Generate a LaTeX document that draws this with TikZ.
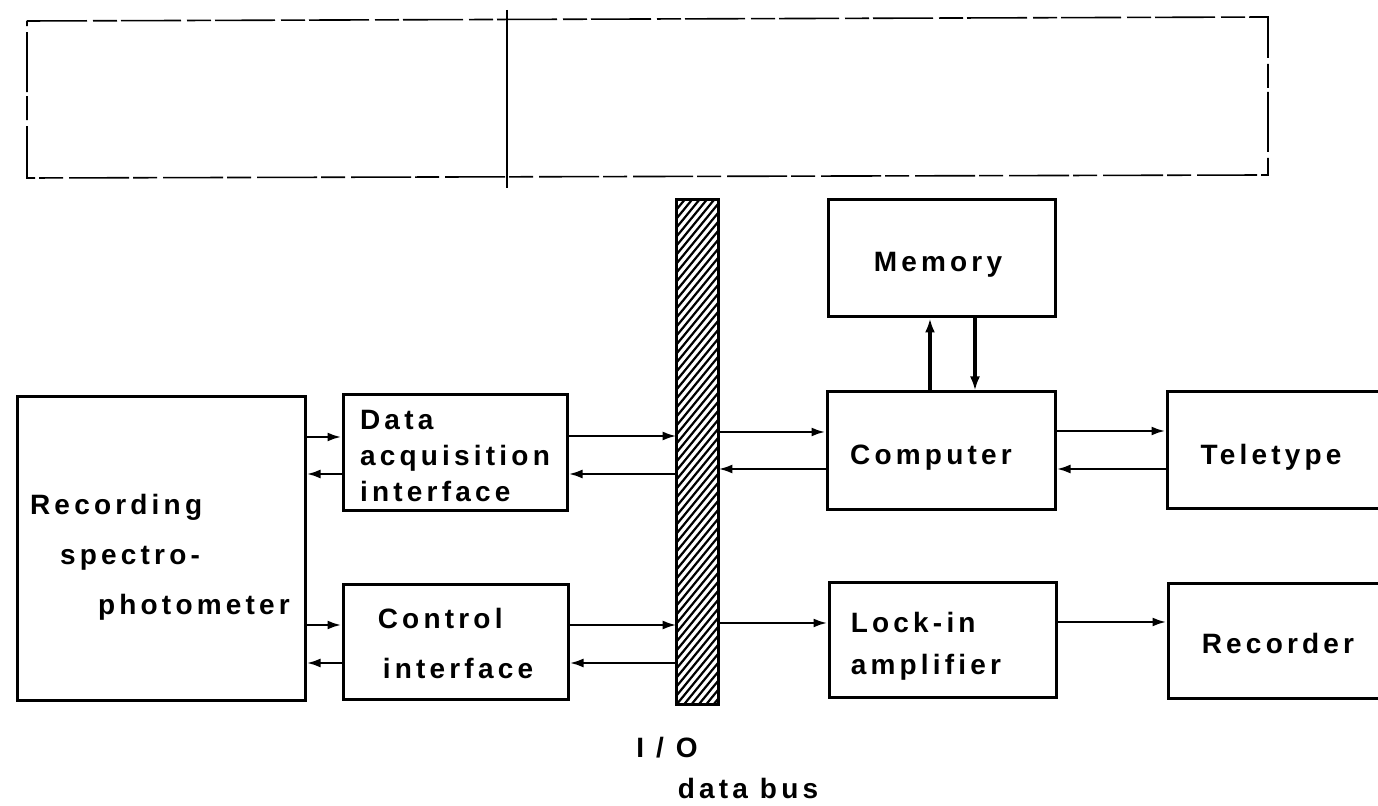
\documentclass[tikz,border=0pt]{standalone}
\usepackage{fontspec}
\setmainfont{Liberation Sans}[LetterSpace=15]
\usepackage{tikz}
\usetikzlibrary{arrows.meta}
\usetikzlibrary{positioning}

\tikzset{
  block/.style={draw, line width=1.5pt, inner sep=0pt},
  lbl/.style={inner sep=0pt, align=left, font=\fontsize{14}{18}\selectfont\bfseries},
  arr/.style={-{Latex[length=7pt,width=4.5pt]}, line width=1.3pt},
  bigarr/.style={-{Latex[length=7pt,width=5pt]}, line width=2pt},
  hatch/.style={line width=1.1pt},
  scan/.style={line width=0.8pt, dash pattern=on 30pt off 3pt on 12pt off 2pt}
}

\begin{document}
\begin{tikzpicture}[x=0.5pt, y=-0.5pt]
  \useasboundingbox (0,0) rectangle (1378,806);
  \clip (0,0) rectangle (1378,806);

  % faint frame at the top of the sheet
  \draw[scan] (27,21) -- (1268,17) -- (1268,175) -- (27,178) -- cycle;
  \draw[line width=0.8pt] (507,10) -- (507,188);

  % blocks
  \node[block, minimum width=144pt, minimum height=152pt] (spec) at (161,549) {};
  \node[block, minimum width=112pt, minimum height=58pt] (daq) at (455,453) {};
  \node[block, minimum width=112.5pt, minimum height=57.5pt] (ctrl) at (455.5,642.5) {};
  \node[block, minimum width=113.5pt, minimum height=58.5pt] (mem) at (941.5,258.5) {};
  \node[block, minimum width=114pt, minimum height=59pt] (comp) at (941,451) {};
  \node[block, minimum width=113.5pt, minimum height=57.5pt] (lock) at (942.5,640.5) {};
  \node[block, minimum width=111.5pt, minimum height=58.5pt] (tty) at (1278.5,450.5) {};
  \node[block, minimum width=111pt, minimum height=57.5pt] (rec) at (1279,641.5) {};

  % texts
  \node[lbl] (spect) at (160,557)
       {Recording\\[7pt]\hspace*{15pt}spectro-\\[7pt]\hspace*{34pt}photometer};
  \node[lbl] (daqt) at (455,456) {Data\\acquisition\\interface};
  \node[lbl] (ctrlt) at (455.5,643) {Control\\[7pt]\hspace*{2.5pt}interface};
  \node[lbl] (memt) at (938,265) {Memory};
  \node[lbl] (compt) at (931,458) {Computer};
  \node[lbl] (lockt) at (926,646) {Lock-in\\[3pt]amplifier};
  \node[lbl] (ttyt) at (1271,457) {Teletype};
  \node[lbl] (rect) at (1278,643) {Recorder};

  % hatched I/O bus
  \node[minimum width=20.5pt, minimum height=252pt, inner sep=0pt] (bus) at (697.5,452) {};
  \begin{scope}
    \clip (bus.south west) rectangle (bus.north east);
    \foreach \k in {0,...,62}
      \draw[hatch] (677,200+\k*9) -- ++(41,-50);
  \end{scope}
  \draw[line width=1.6pt] (bus.south west) rectangle (bus.north east);

  \node[lbl] (io) at (667,748) {I / O};
  \node[lbl] (dbus) at (748,788) {data bus};

  % connectors
  \foreach \a/\b/\y in {spec.east/daq.west/437, daq.west/spec.east/474,
                        spec.east/ctrl.west/625, ctrl.west/spec.east/663,
                        daq.east/bus.west/436, bus.west/daq.east/474,
                        ctrl.east/bus.west/625, bus.west/ctrl.east/663,
                        bus.east/comp.west/432, comp.west/bus.east/469,
                        bus.east/lock.west/623,
                        comp.east/tty.west/431, tty.west/comp.east/469,
                        lock.east/rec.west/622}
    \draw[arr] (\a |- 0,\y) -- (\b |- 0,\y);

  \draw[bigarr] (comp.north -| 930,0) -- (mem.south -| 930,0);
  \draw[bigarr] (mem.south -| 975,0) -- (comp.north -| 975,0);
\end{tikzpicture}
\end{document}
